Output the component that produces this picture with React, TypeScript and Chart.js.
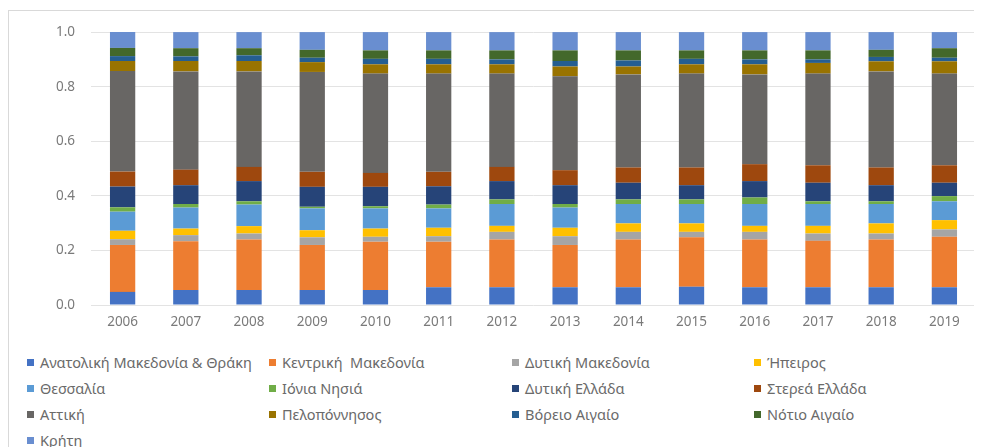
import React, { useEffect, useRef } from "react";
import { Chart, registerables } from "chart.js";

Chart.register(...registerables);

const years = ["2006", "2007", "2008", "2009", "2010", "2011", "2012", "2013", "2014", "2015", "2016", "2017", "2018", "2019"];

const anatoliki = [0.048, 0.055, 0.055, 0.055, 0.055, 0.065, 0.065, 0.065, 0.065, 0.067, 0.065, 0.065, 0.065, 0.065];
const kentriki = [0.172, 0.179, 0.185, 0.165, 0.177, 0.167, 0.175, 0.155, 0.175, 0.181, 0.175, 0.170, 0.175, 0.185];
const dytikiMakedonia = [0.021, 0.022, 0.022, 0.028, 0.018, 0.020, 0.028, 0.032, 0.028, 0.020, 0.028, 0.027, 0.022, 0.027];
const ipeiros = [0.031, 0.024, 0.027, 0.026, 0.030, 0.031, 0.022, 0.031, 0.031, 0.031, 0.022, 0.028, 0.037, 0.034];
const thessalia = [0.070, 0.077, 0.079, 0.080, 0.074, 0.071, 0.080, 0.074, 0.071, 0.071, 0.080, 0.080, 0.071, 0.069];
const ioniaNisia = [0.016, 0.013, 0.012, 0.006, 0.008, 0.014, 0.017, 0.013, 0.017, 0.017, 0.024, 0.010, 0.010, 0.019];
const dytikiEllada = [0.076, 0.069, 0.074, 0.073, 0.071, 0.067, 0.067, 0.069, 0.061, 0.052, 0.060, 0.068, 0.059, 0.049];
const stereaEllada = [0.055, 0.057, 0.052, 0.055, 0.051, 0.053, 0.052, 0.055, 0.056, 0.065, 0.062, 0.064, 0.065, 0.064];
const attiki = [0.368, 0.360, 0.350, 0.366, 0.364, 0.360, 0.342, 0.344, 0.341, 0.344, 0.329, 0.336, 0.352, 0.336];
const peloponnisos = [0.037, 0.038, 0.038, 0.036, 0.034, 0.034, 0.034, 0.036, 0.029, 0.034, 0.037, 0.039, 0.037, 0.045];
const voreioAigaio = [0.018, 0.017, 0.021, 0.016, 0.020, 0.020, 0.018, 0.020, 0.022, 0.020, 0.018, 0.013, 0.016, 0.013];
const notioAigaio = [0.030, 0.030, 0.026, 0.029, 0.031, 0.031, 0.033, 0.039, 0.037, 0.031, 0.033, 0.033, 0.026, 0.035];
const kriti = [0.059, 0.059, 0.059, 0.065, 0.067, 0.067, 0.067, 0.067, 0.067, 0.067, 0.067, 0.067, 0.065, 0.059];

const yTicks = [0, 0.2, 0.4, 0.6, 0.8, 1.0];

const series = [
  { label: "Ανατολική Μακεδονία & Θράκη", data: anatoliki, color: "#4472C4" },
  { label: "Κεντρική  Μακεδονία", data: kentriki, color: "#ED7D31" },
  { label: "Δυτική Μακεδονία", data: dytikiMakedonia, color: "#A5A5A5" },
  { label: "Ήπειρος", data: ipeiros, color: "#FFC000" },
  { label: "Θεσσαλία", data: thessalia, color: "#5B9BD5" },
  { label: "Ιόνια Νησιά", data: ioniaNisia, color: "#70AD47" },
  { label: "Δυτική Ελλάδα", data: dytikiEllada, color: "#264478" },
  { label: "Στερεά Ελλάδα", data: stereaEllada, color: "#9E480E" },
  { label: "Αττική", data: attiki, color: "#686664" },
  { label: "Πελοπόννησος", data: peloponnisos, color: "#997300" },
  { label: "Βόρειο Αιγαίο", data: voreioAigaio, color: "#255E91" },
  { label: "Νότιο Αιγαίο", data: notioAigaio, color: "#43682B" },
  { label: "Κρήτη", data: kriti, color: "#698ED0" },
];

const FONT = "'Noto Sans', 'Open Sans', sans-serif";

export default function App() {
  const ref = useRef<HTMLCanvasElement | null>(null);

  useEffect(() => {
    if (!ref.current) return;
    const chart = new Chart(ref.current, {
      type: "bar",
      data: {
        labels: years,
        datasets: series.map((s) => ({
          label: s.label,
          data: s.data,
          backgroundColor: s.color,
          borderWidth: 0,
          barPercentage: 0.4,
          categoryPercentage: 1,
        })),
      },
      options: {
        animation: false,
        responsive: false,
        maintainAspectRatio: false,
        layout: { padding: { left: 0, right: 5, top: 14, bottom: 7 } },
        plugins: {
          legend: { display: false },
          tooltip: { enabled: false },
        },
        scales: {
          x: {
            stacked: true,
            grid: { display: false, drawTicks: false },
            border: { display: false },
            ticks: { color: "#7a7a7a", font: { family: FONT, size: 13.5 }, padding: 9, maxRotation: 0 },
            afterFit: (s: any) => {
              s.height = 26;
            },
          },
          y: {
            stacked: true,
            min: 0,
            max: 1,
            afterBuildTicks: (s: any) => {
              s.ticks = yTicks.map((v) => ({ value: v }));
            },
            grid: { color: "#e3e3e3", lineWidth: 1, drawTicks: false },
            border: { display: false },
            ticks: {
              color: "#7a7a7a",
              font: { family: FONT, size: 13.5 },
              padding: 16,
              callback: (v: any) => Number(v).toFixed(1),
            },
            afterFit: (s: any) => {
              s.width = 82;
            },
          },
        },
      },
    });
    return () => chart.destroy();
  }, []);

  return (
    <div style={{ width: 974, height: 439, overflow: "hidden", position: "relative" }}>
      <div
        style={{
          position: "absolute",
          left: 0,
          top: 2,
          width: 1000,
          height: 500,
          border: "1px solid #d9d9d9",
          boxSizing: "border-box",
          background: "#fff",
        }}
      >
        <canvas ref={ref} width={972} height={330} style={{ position: "absolute", left: 0, top: -3, width: 972, height: 330 }} />
        <div
          style={{
            position: "absolute",
            left: 18,
            top: 338,
            display: "grid",
            gridTemplateColumns: "242px 243px 242px 242px",
            gridAutoRows: "26px",
            fontFamily: FONT,
            fontSize: 14.5,
            color: "#6a6a6a",
          }}
        >
          {series.map((s) => (
            <div key={s.label} style={{ display: "flex", alignItems: "center", whiteSpace: "pre" }}>
              <span style={{ display: "inline-block", width: 7, height: 7, background: s.color, marginRight: 6 }} />
              <span>{s.label}</span>
            </div>
          ))}
        </div>
      </div>
    </div>
  );
}
